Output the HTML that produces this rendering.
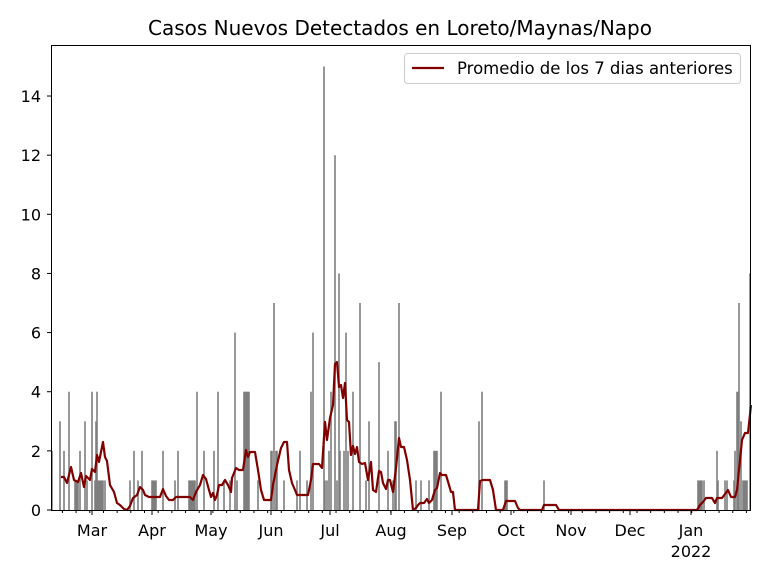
<!DOCTYPE html>
<html><head><meta charset="utf-8"><style>body{margin:0;background:#fff}svg{display:block}</style></head><body>
<svg width="768" height="576" xmlns="http://www.w3.org/2000/svg" font-family="DejaVu Sans, Liberation Sans, sans-serif">
<rect width="768" height="576" fill="#fff"/>
<text x="400" y="35" font-size="20" text-anchor="middle">Casos Nuevos Detectados en Loreto/Maynas/Napo</text>
<g id="bars" fill="#7f7f7f"></g>
<polyline id="ln" fill="none" stroke="#800000" stroke-width="2.2" stroke-linejoin="round" points=""/>
<rect x="51.5" y="45.5" width="699" height="465" fill="none" stroke="#000" stroke-width="1"/>
<g id="ticks" stroke="#000" stroke-width="1"></g>
<g font-size="16" text-anchor="end" id="yl"></g>
<g font-size="16" text-anchor="middle">
<text x="92" y="536">Mar</text><text x="152" y="536">Apr</text><text x="211" y="536">May</text><text x="271" y="536">Jun</text><text x="330" y="536">Jul</text><text x="391" y="536">Aug</text><text x="452" y="536">Sep</text><text x="511" y="536">Oct</text><text x="571" y="536">Nov</text><text x="630" y="536">Dec</text><text x="691" y="536">Jan</text><text x="691" y="557">2022</text>
</g>
<rect x="404.5" y="53.5" width="336" height="30" rx="3" fill="#fff" stroke="#ccc"/>
<line x1="412" y1="68" x2="444" y2="68" stroke="#800000" stroke-width="2.2"/>
<text x="457" y="74" font-size="16.5">Promedio de los 7 dias anteriores</text>
<script>
var ns="http://www.w3.org/2000/svg";
function Y(v){return 510-v*29.57;}
var b=[[52,2],[60,3],[64,2],[69,4],[75,1],[76,1],[77,1],[78,1],[80,2],[85,3],[87,1],[92,4],[95,1],[96,3],[97,4],[98,1],[99,1],[100,1],[101,1],[102,1],[103,1],[105,1],[130,1],[134,2],[138,1],[142,2],[152,1],[153,1],[154,1],[155,1],[156,1],[163,2],[175,1],[178,2],[189,1],[190,1],[191,1],[192,1],[193,1],[194,1],[195,1],[197,4],[204,2],[214,2],[218,4],[224,1],[230,1],[235,6],[237,1],[244,4],[245,4],[246,4],[247,4],[248,4],[249,4],[258,1],[271,2],[272,2],[274,7],[276,2],[277,2],[284,1],[297,1],[300,2],[307,1],[311,4],[313,6],[324,15],[325,1],[327,1],[329,2],[331,4],[335,12],[337,1],[339,8],[340,2],[344,2],[346,6],[348,2],[353,4],[360,7],[366,1],[369,3],[379,5],[388,2],[393,1],[395,3],[396,3],[399,7],[416,1],[421,1],[429,1],[434,2],[435,2],[436,2],[437,2],[441,4],[479,3],[482,4],[505,1],[506,1],[507,1],[544,1],[698,1],[699,1],[700,1],[701,1],[702,1],[704,1],[717,2],[718,1],[725,1],[727,1],[734,1],[735,2],[737,4],[738,4],[739,7],[741,3],[743,1],[744,1],[745,1],[746,1],[747,1],[750,8]];
var g=document.getElementById("bars");
b.forEach(function(d){var r=document.createElementNS(ns,"rect");r.setAttribute("x",d[0]-0.8);r.setAttribute("width",1.6);r.setAttribute("y",Y(d[1]));r.setAttribute("height",d[1]*29.57);g.appendChild(r);});
var p="61,477 64,477 67,483 71,467 74,480 78,482 81,473 84,487 86,476 90,480 92,469 95,472 97,455 99,462 103,442 105,457 107,461 110,485 114,492 117,503 120,505 124,509 127,510 130,506 133,498 137,495 140,487 143,490 145,495 149,497 153,497 157,497 160,497 163,489 166,496 169,500 173,500 176,497 190,497 193,500 196,492 200,485 203,475 206,479 209,490 211,497 213,493 215,500 217,495 219,485 222,485 225,480 228,485 231,492 232,478 236,468 239,470 243,470 246,450 248,457 250,452 255,452 258,470 261,490 264,500 268,500 271,500 273,485 277,465 281,448 284,442 287,442 289,470 292,483 295,490 297,495 308,495 311,480 313,464 319,464 322,468 325,422 327,440 330,418 333,405 335,364 337,362 339,387 341,385 343,398 345,383 347,420 349,422 351,455 353,446 355,454 357,447 359,462 362,464 365,463 368,480 371,462 373,490 376,492 379,471 381,472 383,483 386,489 388,480 390,480 393,492 396,468 399,438 401,447 404,447 407,460 410,480 413,510 416,508 418,505 420,503 424,503 427,499 429,503 432,500 435,490 437,488 440,473 442,475 446,475 449,485 451,492 453,492 455,510 478,510 480,481 483,480 490,480 493,490 496,510 503,510 506,501 509,501 515,501 518,508 520,510 542,510 544,505 556,505 559,510 697,510 700,505 703,502 706,498 710,498 712,498 715,503 717,498 722,498 725,494 728,490 731,497 735,497 737,490 740,460 742,440 745,433 748,433 751,405";
document.getElementById("ln").setAttribute("points",p);
var t=document.getElementById("ticks"),yl=document.getElementById("yl");
for(var v=0;v<=14;v+=2){var y=Y(v);var l=document.createElementNS(ns,"line");l.setAttribute("x1",47);l.setAttribute("x2",51);l.setAttribute("y1",y);l.setAttribute("y2",y);t.appendChild(l);var tx=document.createElementNS(ns,"text");tx.setAttribute("x",41);tx.setAttribute("y",y+6);tx.textContent=v;yl.appendChild(tx);}
[92,152,211,271,330,391,452,511,571,630,691].forEach(function(x){var l=document.createElementNS(ns,"line");l.setAttribute("x1",x);l.setAttribute("x2",x);l.setAttribute("y1",511);l.setAttribute("y2",515);t.appendChild(l);});
for(var x=691.7;x>52;x-=13.68){add(x);}for(var x=691.7+13.68;x<750;x+=13.68){add(x);}
function add(x){var l=document.createElementNS(ns,"line");l.setAttribute("x1",x);l.setAttribute("x2",x);l.setAttribute("y1",511);l.setAttribute("y2",513);t.appendChild(l);}
</script>
</svg>
</body></html>
